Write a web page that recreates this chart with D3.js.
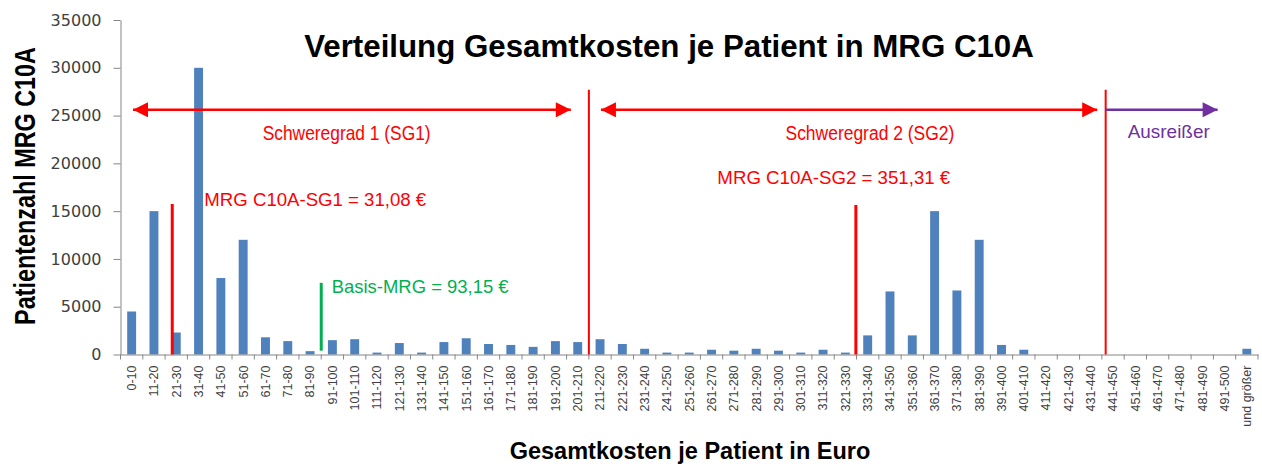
<!DOCTYPE html>
<html>
<head>
<meta charset="utf-8">
<script src="https://cdn.jsdelivr.net/npm/d3@7"></script>
<style>
  body { margin: 0; background: #fff; }
  svg { display: block; }
</style>
</head>
<body>
<div id="chart"></div>
<script>
// cost bins (euro) and number of patients per bin
const categories = ["0-10", "11-20", "21-30", "31-40", "41-50", "51-60", "61-70", "71-80", "81-90",
  "91-100", "101-110", "111-120", "121-130", "131-140", "141-150", "151-160", "161-170", "171-180",
  "181-190", "191-200", "201-210", "211-220", "221-230", "231-240", "241-250", "251-260", "261-270",
  "271-280", "281-290", "291-300", "301-310", "311-320", "321-330", "331-340", "341-350", "351-360",
  "361-370", "371-380", "381-390", "391-400", "401-410", "411-420", "421-430", "431-440", "441-450",
  "451-460", "461-470", "471-480", "481-490", "491-500", "und größer"];

const patients = [4500, 15000, 2300, 30000, 8000, 12000, 1800, 1400, 350,
  1500, 1600, 200, 1200, 200, 1300, 1700, 1100, 1000,
  800, 1400, 1300, 1600, 1100, 600, 200, 200, 500,
  400, 600, 400, 200, 500, 200, 2000, 6600, 2000,
  15000, 6700, 12000, 1000, 500, 0, 0, 0, 0,
  0, 0, 0, 0, 0, 600];

const yTicks = [0, 5000, 10000, 15000, 20000, 25000, 30000, 35000];

const title = "Verteilung Gesamtkosten je Patient in MRG C10A";
const xTitle = "Gesamtkosten je Patient in Euro";
const yTitle = "Patientenzahl MRG C10A";

const data = categories.map((c, i) => ({ cat: c, value: patients[i] }));

const width = 1262,
      height = 468,
      margin = ({ top: 20, right: 4, bottom: 113.5, left: 120.5 });

const font = "'Liberation Sans', Arial, sans-serif";

const svg = d3.select("#chart")
  .append("svg")
  .attr("width", width)
  .attr("height", height);

const x = d3.scaleBand()
  .domain(categories)
  .range([margin.left, width - margin.right])
  .paddingInner(0.6)
  .paddingOuter(0.3);

const y = d3.scaleLinear()
  .domain([0, 35000])
  .range([height - margin.bottom, margin.top]);

// position in "bin units" (0 = left edge, 51 = right edge) for the annotations
const bin = d3.scaleLinear()
  .domain([0, categories.length])
  .range([margin.left, width - margin.right]);

const axisColor = "#868686";
const labelColor = "#404040";

// squeeze a text horizontally to a given width (the original uses a narrow font)
function squeeze(sel, len) {
  sel.each(function(d) {
    const w = this.getComputedTextLength();
    const target = typeof len === "function" ? len(d) : len;
    const prev = this.getAttribute("transform") || "";
    d3.select(this).attr("transform", prev + ` scale(${target / w},1)`);
  });
}

// y axis
const yAxis = svg.append("g")
  .attr("transform", `translate(${margin.left},0)`)
  .call(d3.axisLeft(y).tickValues(yTicks).tickFormat(d3.format("d"))
    .tickSize(7).tickPadding(12).tickSizeOuter(0));
yAxis.select(".domain").attr("stroke", axisColor);
yAxis.selectAll(".tick line").attr("stroke", axisColor);
yAxis.selectAll(".tick text")
  .attr("fill", labelColor)
  .style("font-family", "'DejaVu Sans', sans-serif")
  .style("font-size", "16px");

// bars
svg.selectAll(".bar")
  .data(data)
  .join("rect")
  .attr("class", "bar")
  .attr("fill", "#4F81BD")
  .attr("x", d => x(d.cat))
  .attr("width", x.bandwidth())
  .attr("y", d => y(d.value))
  .attr("height", d => y(0) - y(d.value));

// x axis: labels at band centres, ticks at bin boundaries
const xAxis = svg.append("g")
  .attr("transform", `translate(0,${y(0)})`)
  .call(d3.axisBottom(x).tickSize(0).tickSizeOuter(0));
xAxis.select(".domain").attr("stroke", axisColor);
xAxis.selectAll(".tick text")
  .attr("transform", "rotate(-90)")
  .attr("text-anchor", "end")
  .attr("x", -11)
  .attr("y", 0)
  .attr("dy", "0.35em")
  .attr("fill", labelColor)
  .style("font-family", font)
  .style("font-size", "12.5px");

svg.append("g")
  .selectAll("line")
  .data(d3.range(categories.length + 1))
  .join("line")
  .attr("x1", d => bin(d))
  .attr("x2", d => bin(d))
  .attr("y1", y(0))
  .attr("y2", y(0) + 5)
  .attr("stroke", axisColor);

// titles
svg.append("g")
  .attr("transform", "translate(669,57)")
  .append("text")
  .attr("text-anchor", "middle")
  .style("font-family", font)
  .style("font-weight", "bold")
  .style("font-size", "31px")
  .text(title)
  .call(squeeze, 730);

svg.append("g")
  .attr("transform", "translate(690,459)")
  .append("text")
  .attr("text-anchor", "middle")
  .style("font-family", font)
  .style("font-weight", "bold")
  .style("font-size", "24px")
  .text(xTitle)
  .call(squeeze, 361);

svg.append("g")
  .attr("transform", "translate(35,186) rotate(-90)")
  .append("text")
  .attr("text-anchor", "middle")
  .style("font-family", font)
  .style("font-weight", "bold")
  .style("font-size", "29px")
  .text(yTitle)
  .call(squeeze, 278);

// annotations (x in bin units, y in patient counts)
const red = "#FF0000", green = "#00B050", purple = "#7030A0";

const defs = svg.append("defs");
function head(id, color) {
  defs.append("marker")
    .attr("id", id)
    .attr("viewBox", "0 0 10 10")
    .attr("refX", 10).attr("refY", 5)
    .attr("markerUnits", "userSpaceOnUse")
    .attr("markerWidth", 16).attr("markerHeight", 15)
    .attr("orient", "auto-start-reverse")
    .append("path")
    .attr("d", "M0,0L10,5L0,10Z")
    .attr("fill", color);
}
head("headRed", red);
head("headPurple", purple);

const vlines = [
  { at: 21.0, top: 27700, bottom: 0, color: red, w: 2 },
  { at: 44.17, top: 27700, bottom: 0, color: red, w: 2 },
  { at: 2.32, top: 15750, bottom: 0, color: red, w: 3 },
  { at: 32.97, top: 15650, bottom: 0, color: red, w: 3 },
  { at: 9.0, top: 7500, bottom: 400, color: green, w: 3 }
];
svg.append("g").selectAll("line")
  .data(vlines)
  .join("line")
  .attr("x1", d => bin(d.at)).attr("x2", d => bin(d.at))
  .attr("y1", d => y(d.top)).attr("y2", d => y(d.bottom))
  .attr("stroke", d => d.color)
  .attr("stroke-width", d => d.w);

const arrows = [
  { from: 0.56, to: 20.19, color: red, both: true },
  { from: 21.54, to: 43.79, color: red, both: true },
  { from: 44.17, to: 49.19, color: purple, both: false }
];
svg.append("g").selectAll("line")
  .data(arrows)
  .join("line")
  .attr("x1", d => bin(d.from)).attr("x2", d => bin(d.to))
  .attr("y1", y(25600)).attr("y2", y(25600))
  .attr("stroke", d => d.color)
  .attr("stroke-width", 2.5)
  .attr("marker-end", d => d.color === red ? "url(#headRed)" : "url(#headPurple)")
  .attr("marker-start", d => d.both ? "url(#headRed)" : null);

const labels = [
  { text: "Schweregrad 1 (SG1)", at: 10.14, v: 22450, anchor: "middle", size: 21, len: 168, color: red },
  { text: "Schweregrad 2 (SG2)", at: 33.6, v: 22450, anchor: "middle", size: 21, len: 169, color: red },
  { text: "Ausreißer", at: 45.16, v: 22620, anchor: "start", size: 18, len: 82, color: purple },
  { text: "MRG C10A-SG1 = 31,08 €", at: 3.76, v: 15570, anchor: "start", size: 19, len: 222, color: red },
  { text: "MRG C10A-SG2 = 351,31 €", at: 26.76, v: 17840, anchor: "start", size: 19, len: 233, color: red },
  { text: "Basis-MRG = 93,15 €", at: 9.47, v: 6470, anchor: "start", size: 18, len: 177, color: green }
];
svg.append("g").selectAll("text")
  .data(labels)
  .join("text")
  .attr("transform", d => `translate(${bin(d.at)},${y(d.v)})`)
  .attr("text-anchor", d => d.anchor)
  .attr("fill", d => d.color)
  .style("font-family", font)
  .style("font-size", d => d.size + "px")
  .text(d => d.text)
  .call(squeeze, d => d.len);
</script>
</body>
</html>
